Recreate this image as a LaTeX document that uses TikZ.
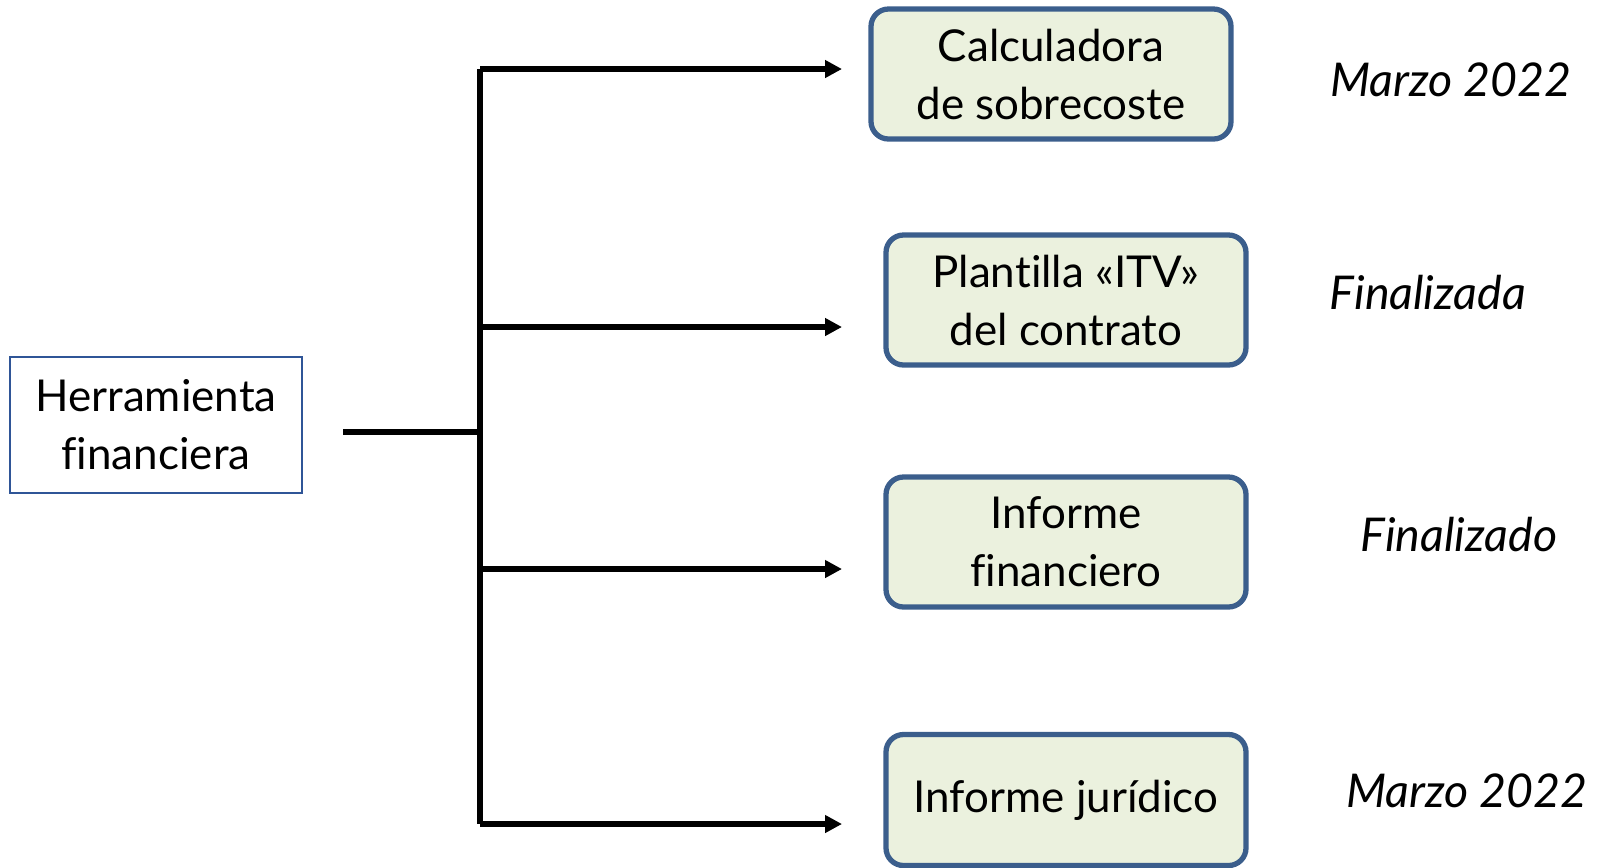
\documentclass[tikz,border=0pt]{standalone}
\usepackage{fontspec}
\setmainfont{Lato}[Ligatures=NoCommon]
\usetikzlibrary{arrows.meta}
\definecolor{boxfill}{RGB}{235,241,222}
\definecolor{boxline}{RGB}{59,94,140}
\definecolor{toolline}{RGB}{47,85,151}

\begin{document}
\begin{tikzpicture}[x=0.02cm,y=-0.02cm,
    every node/.style={font=\fontsize{25}{33}\selectfont, align=center},
    tool/.style={draw=toolline, line width=1pt, minimum width=292*0.02cm, minimum height=136*0.02cm},
    task/.style={draw=boxline, fill=boxfill, line width=3pt, rounded corners=0.35cm, minimum height=130*0.02cm},
    status/.style={font=\fontsize{26.5}{33}\selectfont\itshape},
    branch/.style={line width=3.3pt, -{Triangle[length=0.34cm,width=0.34cm]}}]
  \useasboundingbox (0,0) rectangle (1601,867);
  % left box and the task boxes
  \node[tool] (herr) at (156,425) {Herramienta\\financiera};
  \node[task, minimum width=360*0.02cm] (calc) at (1051,74) {Calculadora\\de sobrecoste};
  \node[task, minimum width=360*0.02cm] (itv) at (1066,300) {Plantilla «ITV»\\del contrato};
  \node[task, minimum width=360*0.02cm] (infin) at (1066,542) {Informe\\financiero};
  \node[task, minimum width=360*0.02cm, minimum height=131*0.02cm] (injur) at (1066,800) {Informe jurídico};
  % dates
  \node[status] (st1) at (1451,80) {Marzo 2022};
  \node[status] (st2) at (1428,293) {Finalizada};
  \node[status] (st3) at (1459,534) {Finalizado};
  \node[status] (st4) at (1467,791) {Marzo 2022};
  % tree
  \coordinate (stub) at (343,432);
  \coordinate (split) at (480,432);
  \coordinate (t1) at (480,69);  \coordinate (e1) at (842,69);
  \coordinate (t2) at (480,327); \coordinate (e2) at (842,327);
  \coordinate (t3) at (480,569); \coordinate (e3) at (842,569);
  \coordinate (t4) at (480,824); \coordinate (e4) at (842,824);
  \draw[line width=3.3pt] (stub) -- (split);
  \draw[line width=3.3pt] (t1) -- (t4);
  \draw[branch] (t1) -- (e1);
  \draw[branch] (t2) -- (e2);
  \draw[branch] (t3) -- (e3);
  \draw[branch] (t4) -- (e4);
\end{tikzpicture}
\end{document}
